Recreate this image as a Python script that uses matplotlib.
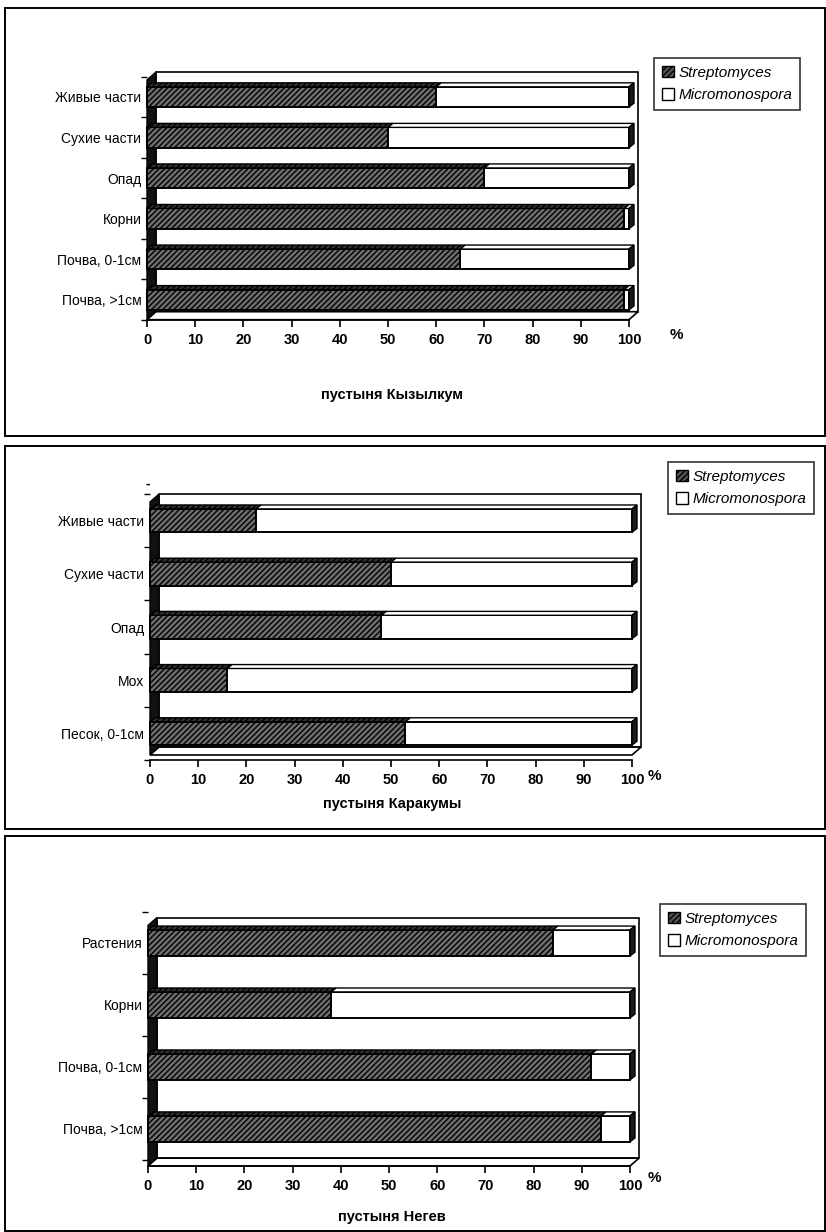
import matplotlib
matplotlib.use("Agg")
import matplotlib.pyplot as plt
from matplotlib.patches import Polygon, Rectangle, Patch

plt.rcParams['font.family'] = ['Liberation Sans', 'DejaVu Sans']
plt.rcParams['hatch.linewidth'] = 1.0

# доля родов в комплексах актиномицетов, %
kyzylkum_labels = ['Живые части', 'Сухие части', 'Опад', 'Корни', 'Почва, 0-1см', 'Почва, >1см']
kyzylkum_strep = [60, 50, 70, 99, 65, 99]
kyzylkum_micro = [40, 50, 30, 1, 35, 1]

karakum_labels = ['Живые части', 'Сухие части', 'Опад', 'Мох', 'Песок, 0-1см']
karakum_strep = [22, 50, 48, 16, 53]
karakum_micro = [78, 50, 52, 84, 47]

negev_labels = ['Растения', 'Корни', 'Почва, 0-1см', 'Почва, >1см']
negev_strep = [84, 38, 92, 94]
negev_micro = [16, 62, 8, 6]

titles = ['пустыня Кызылкум', 'пустыня Каракумы', 'пустыня Негев']
series_names = ['Streptomyces', 'Micromonospora']
xticks = list(range(0, 101, 10))

W, H = 826, 1232
fig = plt.figure(figsize=(W / 100, H / 100), dpi=100)


def fx(px):
    return px / W


def fy(py):
    return 1 - py / H


STREP_HATCH = '//////'
STREP_FACE = '#6e6e6e'


def draw_panel(labels, strep, micro, title, box, axes_px, centers, bar_frac,
               legend_px, pct_px, title_y):
    # рамка панели
    x0, y0, x1, y1 = box
    fig.add_artist(Rectangle((fx(x0), fy(y1)), fx(x1 - x0), (y1 - y0) / H,
                             transform=fig.transFigure, fill=False,
                             edgecolor='black', linewidth=1.4))

    left, top, right, bottom = axes_px
    ax = fig.add_axes([fx(left), fy(bottom), fx(right - left), (bottom - top) / H])
    n = len(labels)
    c_top, c_bot = centers
    step = (c_bot - c_top) / (n - 1)
    ylo = -(bottom - c_bot) / step
    yhi = (n - 1) + (c_top - top) / step
    ax.set_xlim(0, 100)
    ax.set_ylim(ylo, yhi)

    ppx = (right - left) / 100.0          # пикселей на единицу по x
    dx, dy = 9 / ppx, 8 / step            # глубина стенок
    bdx, bdy = 5 / ppx, 4 / step          # глубина столбиков

    # задняя стенка, боковая стенка и пол
    ax.add_patch(Rectangle((dx, ylo + dy), 100, yhi - ylo - dy, facecolor='white',
                           edgecolor='black', linewidth=1.2, clip_on=False, zorder=1))
    ax.add_patch(Polygon([(0, ylo), (dx, ylo + dy), (dx, yhi), (0, yhi - dy)],
                         closed=True, facecolor='#111111', edgecolor='black',
                         linewidth=1.0, clip_on=False, zorder=2))
    ax.add_patch(Polygon([(0, ylo), (100, ylo), (100 + dx, ylo + dy), (dx, ylo + dy)],
                         closed=True, facecolor='white', edgecolor='black',
                         linewidth=1.2, clip_on=False, zorder=2))

    ypos = list(range(n - 1, -1, -1))
    h = bar_frac
    ax.barh(ypos, strep, height=h, left=0, facecolor=STREP_FACE, edgecolor='black',
            hatch=STREP_HATCH, linewidth=1.4, zorder=4, clip_on=False)
    ax.barh(ypos, micro, height=h, left=strep, facecolor='white', edgecolor='black',
            linewidth=1.4, zorder=4, clip_on=False)
    for y, s, m in zip(ypos, strep, micro):
        yt = y + h / 2
        ax.add_patch(Polygon([(0, yt), (s, yt), (s + bdx, yt + bdy), (bdx, yt + bdy)],
                             closed=True, facecolor='#333333', edgecolor='black',
                             hatch=STREP_HATCH, linewidth=1.0, clip_on=False, zorder=5))
        ax.add_patch(Polygon([(s, yt), (s + m, yt), (s + m + bdx, yt + bdy), (s + bdx, yt + bdy)],
                             closed=True, facecolor='white', edgecolor='black',
                             linewidth=1.0, clip_on=False, zorder=5))
        end = s + m
        ax.add_patch(Polygon([(end, y - h / 2), (end + bdx, y - h / 2 + bdy),
                              (end + bdx, yt + bdy), (end, yt)],
                             closed=True, facecolor='#1a1a1a', edgecolor='black',
                             linewidth=1.0, clip_on=False, zorder=5))

    for side in ['top', 'right', 'left']:
        ax.spines[side].set_visible(False)
    ax.spines['bottom'].set_linewidth(1.2)
    ax.set_xticks(xticks)
    ax.set_xticklabels([str(t) for t in xticks], fontsize=10.5, fontweight='bold')
    ax.tick_params(axis='x', direction='out', length=5, width=1.2, pad=4)
    ax.set_yticks(ypos)
    ax.set_yticklabels(labels, fontsize=10)
    ax.tick_params(axis='y', length=0, pad=4)
    ax.set_yticks([y + 0.5 for y in range(-1, n)], minor=True)
    ax.tick_params(axis='y', which='minor', length=4, width=1.0, direction='out')
    ax.patch.set_alpha(0)

    fig.text(fx(pct_px[0]), fy(pct_px[1]), '%', fontsize=11, fontweight='bold',
             ha='center', va='center')
    fig.text(fx(392), fy(title_y), title, fontsize=10.5, fontweight='bold',
             ha='center', va='center')

    handles = [Patch(facecolor='#555555', edgecolor='black', hatch=STREP_HATCH),
               Patch(facecolor='white', edgecolor='black')]
    leg = fig.legend(handles, series_names, loc='upper left',
                     bbox_to_anchor=(fx(legend_px[0]), fy(legend_px[1])),
                     bbox_transform=fig.transFigure, frameon=True, fancybox=False,
                     edgecolor='black', handlelength=0.8, borderaxespad=0,
                     handleheight=0.8, handletextpad=0.3, labelspacing=0.55,
                     borderpad=0.5, prop={'style': 'italic', 'size': 11})
    leg.get_frame().set_linewidth(1.2)
    return ax


draw_panel(kyzylkum_labels, kyzylkum_strep, kyzylkum_micro, titles[0],
           box=(5, 8, 825, 436), axes_px=(147, 72, 629, 320), centers=(97, 300),
           bar_frac=0.5, legend_px=(654, 58), pct_px=(676, 335), title_y=395)

draw_panel(karakum_labels, karakum_strep, karakum_micro, titles[1],
           box=(5, 446, 825, 829), axes_px=(150, 494, 632, 760), centers=(521, 738),
           bar_frac=0.44, legend_px=(668, 462), pct_px=(654, 776), title_y=804)
fig.text(fx(148), fy(484), '-', fontsize=10, fontweight='bold', ha='center', va='center')

draw_panel(negev_labels, negev_strep, negev_micro, titles[2],
           box=(5, 836, 825, 1231), axes_px=(148, 912, 630, 1166), centers=(938, 1128),
           bar_frac=0.42, legend_px=(660, 904), pct_px=(654, 1178), title_y=1217)

fig.savefig('out.png', dpi=100)
